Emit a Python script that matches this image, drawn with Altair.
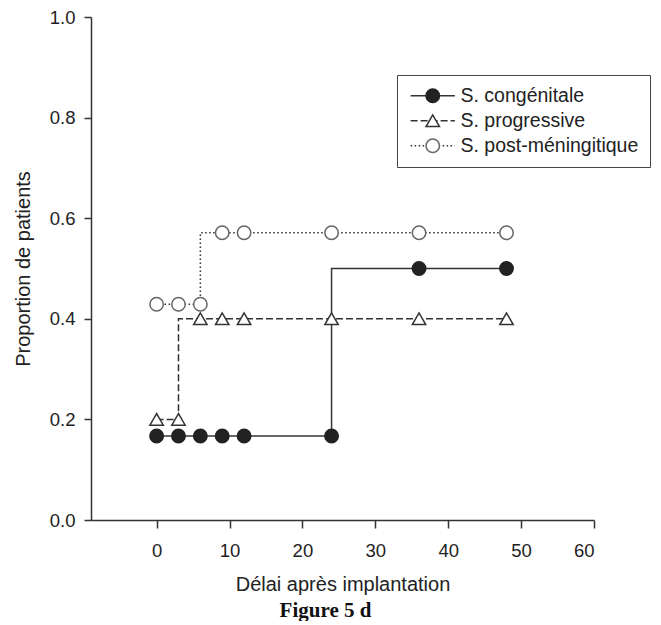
import altair as alt
import pandas as pd

# ---- data ----
categories = ["S. congénitale", "S. progressive", "S. post-méningitique"]
mois = [0, 3, 6, 9, 12, 24, 36, 48]
congenitale = [0.167, 0.167, 0.167, 0.167, 0.167, 0.167, 0.5, 0.5]
progressive = [0.2, 0.2, 0.4, 0.4, 0.4, 0.4, 0.4, 0.4]
post_meningitique = [0.429, 0.429, 0.429, 0.571, 0.571, 0.571, 0.571, 0.571]
x_ticks = [0, 10, 20, 30, 40, 50, 60]
y_ticks = [0.0, 0.2, 0.4, 0.6, 0.8, 1.0]

rows = []
for name, vals in zip(categories, [congenitale, progressive, post_meningitique]):
    for m, v in zip(mois, vals):
        rows.append({"mois": m, "proportion": v, "serie": name})
df = pd.DataFrame(rows)

FONT = "Liberation Sans"
LINE_SYMBOL = "M-3.3,0H3.3"
LEG_X, LEG_Y = 306, 58

x_enc = alt.X(
    "mois:Q",
    scale=alt.Scale(domain=[-9, 60], nice=False, zero=False),
    axis=alt.Axis(values=x_ticks, title="Délai après implantation", tickSize=8,
                  labelPadding=13, titlePadding=15),
)
y_enc = alt.Y(
    "proportion:Q",
    scale=alt.Scale(domain=[0, 1], nice=False),
    axis=alt.Axis(values=y_ticks, format=".1f", title="Proportion de patients",
                  tickSize=7, labelPadding=9, titlePadding=16),
)

leg_lines = alt.Legend(
    title=None, orient="none", legendX=LEG_X, legendY=LEG_Y,
    symbolType=LINE_SYMBOL, symbolSize=180, symbolStrokeWidth=1.5,
    symbolStrokeColor="#333", symbolFillColor="transparent", symbolOffset=15,
    labelFont=FONT, labelFontSize=19.5, labelColor="#222", labelOffset=18,
    labelLimit=400,
    padding=11, rowPadding=4, strokeColor="#444", fillColor="white",
    zindex=0,
)
leg_marks = alt.Legend(
    title=None, orient="none", legendX=LEG_X, legendY=LEG_Y,
    symbolSize=180, symbolStrokeWidth=1.5, symbolOffset=15,
    symbolFillColor="white",
    labelFont=FONT, labelFontSize=19.5, labelOpacity=0, labelOffset=18,
    labelLimit=400,
    padding=11, rowPadding=4, zindex=1,
)

lines = alt.Chart(df).mark_line(
    interpolate="step-before", strokeWidth=1.5, color="#333"
).encode(
    x=x_enc,
    y=y_enc,
    strokeDash=alt.StrokeDash(
        "serie:N", sort=categories,
        scale=alt.Scale(range=[[1, 0], [7, 3], [1.5, 2.5]]),
        legend=leg_lines,
    ),
)

points = alt.Chart(df).mark_point(
    size=180, strokeWidth=1.5, opacity=1, filled=True
).encode(
    x=x_enc,
    y=y_enc,
    shape=alt.Shape("serie:N",
                    scale=alt.Scale(domain=categories,
                                    range=["circle", "triangle-up", "circle"]),
                    legend=leg_marks),
    fill=alt.Fill("serie:N",
                  scale=alt.Scale(domain=categories,
                                  range=["#222222", "#ffffff", "#ffffff"]),
                  legend=leg_marks),
    stroke=alt.Stroke("serie:N",
                      scale=alt.Scale(domain=categories,
                                      range=["#222222", "#333333", "#666666"]),
                      legend=leg_marks),
)

chart = alt.layer(lines, points).properties(
    width=503,
    height=503,
    background="white",
    padding={"left": 5, "top": 0, "right": 0, "bottom": 0},
    title=alt.TitleParams(
        "Figure 5 d", orient="bottom", font="Liberation Serif", fontSize=21,
        fontWeight="bold", color="#111", anchor="middle", dx=-17, offset=5,
    ),
).configure_view(stroke=None).configure_axis(
    grid=False,
    domainColor="#333", domainWidth=1.5,
    tickColor="#333", tickWidth=1.5,
    labelFont=FONT, labelFontSize=18.5, labelColor="#222",
    titleFont=FONT, titleFontSize=20, titleFontWeight="normal", titleColor="#222",
)

chart.save("out.html", embed_options={"renderer": "svg", "actions": False})
